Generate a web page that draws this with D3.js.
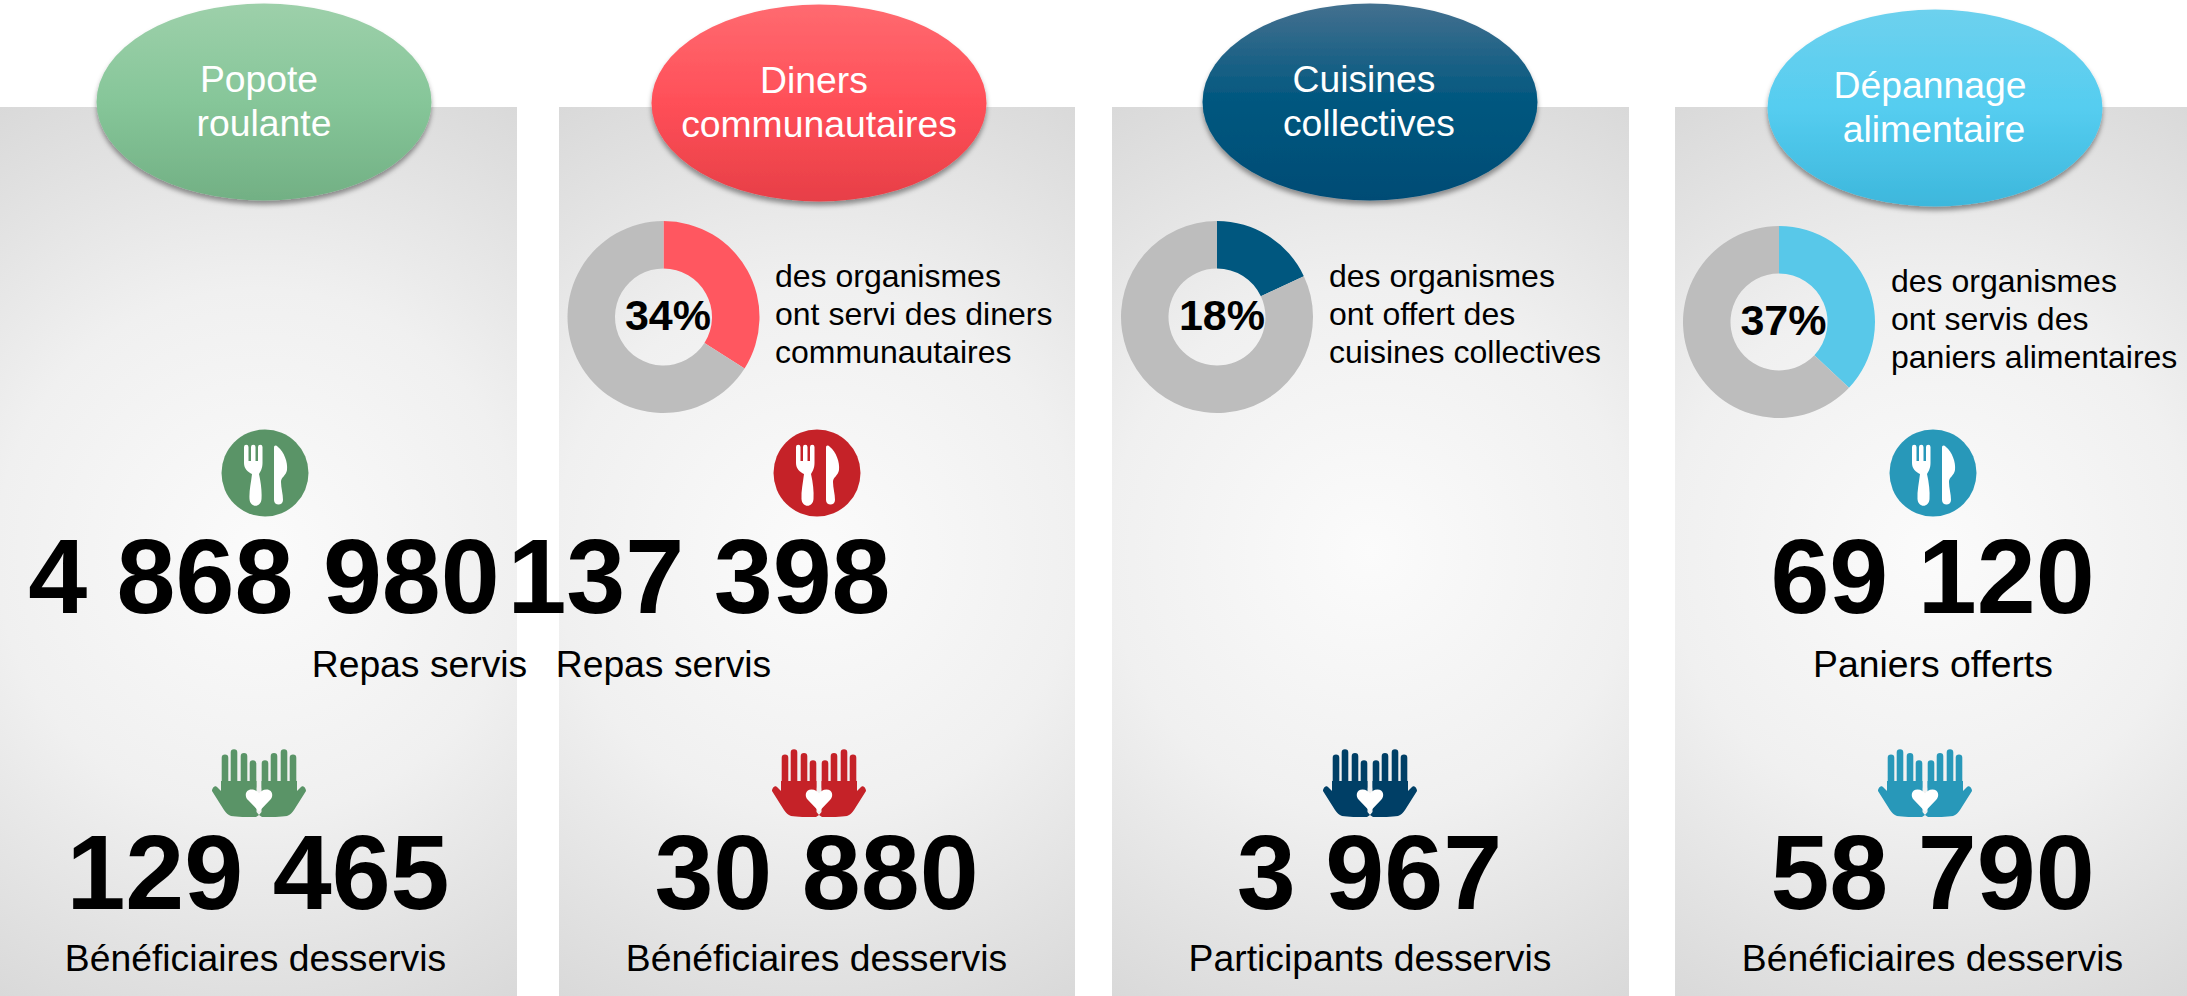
<!DOCTYPE html>
<html>
<head>
<meta charset="utf-8">
<script src="https://cdn.jsdelivr.net/npm/d3@7"></script>
<style>
  html, body { margin: 0; padding: 0; background: #fff; }
  svg { display: block; }
  text { font-family: "Liberation Sans", Arial, sans-serif; }
</style>
</head>
<body>
<div id="chart"></div>
<script>
// chart values, one entry per service
let services = ['Popote roulante', 'Diners communautaires', 'Cuisines collectives', 'Dépannage alimentaire']
let titleLines = [['Popote', 'roulante'], ['Diners', 'communautaires'], ['Cuisines', 'collectives'], ['Dépannage', 'alimentaire']]
let shares = [null, 34, 18, 37]
let shareText = [
  null,
  ['des organismes', 'ont servi des diners', 'communautaires'],
  ['des organismes', 'ont offert des', 'cuisines collectives'],
  ['des organismes', 'ont servis des', 'paniers alimentaires']
]
let outputs = [4868980, 137398, null, 69120]
let outputLabels = ['Repas servis', 'Repas servis', null, 'Paniers offerts']
let reach = [129465, 30880, 3967, 58790]
let reachLabels = ['Bénéficiaires desservis', 'Bénéficiaires desservis', 'Participants desservis', 'Bénéficiaires desservis']

let width = 2187
let height = 996
let panelTop = 107
let panelX = [[0, 517], [559, 1075], [1112, 1629], [1675, 2187]]
let ovalC = [[264, 102], [819, 103], [1370, 102], [1935, 108]]
let titleX = [[259, 264], [814, 819], [1364, 1369], [1930, 1934]]
let donutC = [null, [663.5, 317], [1217, 317], [1779, 322]]
let shareX = [null, 668, 1222, 1783.5]
let sideX = [null, 775, 1329, 1891]
let iconX = [265, 817, null, 1933]
let handX = [259, 819, 1370, 1925]
let outputX = [264, 699, null, 1932.5]
let outputLabelX = [419.5, 663.5, null, 1933]
let reachX = [258, 816.5, 1369.5, 1932.5]
let reachLabelX = [255.5, 816.5, 1370, 1932.5]

let ovalStops = [
  ['#9dd0aa', '#86c699', '#72b084'],
  ['#ff6a70', '#ff4f58', '#e73f47'],
  ['#43708f', '#00577f', '#004c75'],
  ['#6dd1ee', '#55cdf0', '#3db7dc']
]
let sliceColor = ['#86c699', '#ff5760', '#00577f', '#58c8e9']
let iconColor = ['#5a9467', '#c52228', '#003f66', '#2898b9']
let restColor = '#bdbdbd'

let format = d3.formatLocale({ decimal: ',', thousands: ' ', grouping: [3], currency: ['', ' $'] }).format(',d')

let svg = d3.select('#chart').append('svg').attr('width', width).attr('height', height)
let defs = svg.append('defs')

let shadow = defs.append('filter').attr('id', 'oval-shadow')
  .attr('x', '-10%').attr('y', '-10%').attr('width', '120%').attr('height', '125%')
shadow.append('feDropShadow').attr('dx', 0).attr('dy', 4).attr('stdDeviation', 2.5)
  .attr('flood-color', '#000').attr('flood-opacity', 0.4)

panelX.forEach(([x0, x1], i) => {
  let bg = defs.append('radialGradient').attr('id', 'panel-' + i)
    .attr('gradientUnits', 'userSpaceOnUse')
    .attr('cx', (x0 + x1) / 2).attr('cy', (panelTop + height) / 2).attr('r', 525)
  bg.append('stop').attr('offset', 0).attr('stop-color', '#fbfbfb')
  bg.append('stop').attr('offset', 0.5).attr('stop-color', '#f0f0f0')
  bg.append('stop').attr('offset', 0.75).attr('stop-color', '#e4e4e4')
  bg.append('stop').attr('offset', 1).attr('stop-color', '#d8d8d8')

  let oval = defs.append('linearGradient').attr('id', 'oval-' + i)
    .attr('x1', 0).attr('y1', 0).attr('x2', 0).attr('y2', 1)
  oval.selectAll('stop').data(ovalStops[i]).join('stop')
    .attr('offset', (d, k) => [0, 0.5, 1][k])
    .attr('stop-color', d => d)
})

// panels first, the big numbers spill over the gaps
svg.selectAll('.panel').data(panelX).join('rect')
  .attr('class', 'panel')
  .attr('x', d => d[0]).attr('y', panelTop)
  .attr('width', d => d[1] - d[0]).attr('height', height - panelTop)
  .attr('fill', (d, i) => `url(#panel-${i})`)

let arc = d3.arc().innerRadius(48.5).outerRadius(96)
let pie = d3.pie().sort(null).value(d => d)

function drawFork(g, color) {
  g.append('circle').attr('r', 43.5).attr('fill', color)
  g.append('path').attr('fill', '#fff')
    .attr('d', 'M-21,-26a2.25,2.25 0 0 1 4.5,0V-12h2.5V-26a2.25,2.25 0 0 1 4.5,0V-12h2.5V-26a2.25,2.25 0 0 1 4.5,0V-10C-2.5,-4 -5,-1 -6,1C-4,10 -3,18 -3.5,26C-4,35 -15,35 -15.5,26C-16,18 -14,10 -13,1C-17,-1 -21,-4 -21,-10Z')
  g.append('path').attr('fill', '#fff')
    .attr('d', 'M9,-25C9,-28 11,-28 13,-26C19,-21 23,-11 22,-3C21,3 16,4 16,9C16,15 18,21 18,27C18,33 9,33 9,27Z')
}

function drawHands(g, color) {
  [1, -1].forEach(side => {
    let hand = g.append('g').attr('transform', `scale(${side},1)`)
    hand.append('path').attr('fill', 'none').attr('stroke', color)
      .attr('stroke-width', 6.6).attr('stroke-linecap', 'round')
      .attr('d', 'M-34,-24.3V5M-25,-29.4V5M-15,-25.7V5M-6,-18.4V5')
    hand.append('path').attr('fill', color)
      .attr('d', 'M-47,9C-47,6 -44,3 -42,5L-38,9V-1H-2.5V30L0,33L-3,35C-12,35 -22,35 -28,34C-31,33 -33,31 -35,28Z')
  })
  g.append('path').attr('fill', '#fff')
    .attr('d', 'M0,29.5L-11,18C-15,14 -13.5,7.5 -7.5,7.5C-4,7.5 -1.5,9.5 0,11.5C1.5,9.5 4,7.5 7.5,7.5C13.5,7.5 15,14 11,18Z')
}

services.forEach((name, i) => {
  let g = svg.append('g').attr('class', 'service')

  // oval header
  g.append('ellipse')
    .attr('cx', ovalC[i][0]).attr('cy', ovalC[i][1]).attr('rx', 167.5).attr('ry', 98.5)
    .attr('fill', `url(#oval-${i})`)
    .attr('filter', 'url(#oval-shadow)')
  g.selectAll('.title').data(titleLines[i]).join('text')
    .attr('class', 'title')
    .attr('x', (d, k) => titleX[i][k])
    .attr('y', (d, k) => ovalC[i][1] - 10 + k * 44)
    .attr('text-anchor', 'middle').attr('fill', '#fff').attr('font-size', 37.3)
    .text(d => d)

  // donut
  if (shares[i] !== null) {
    let donut = g.append('g').attr('transform', `translate(${donutC[i]})`)
    donut.selectAll('path').data(pie([shares[i], 100 - shares[i]])).join('path')
      .attr('d', arc)
      .attr('fill', (d, k) => k === 0 ? sliceColor[i] : restColor)
    g.append('text')
      .attr('x', shareX[i]).attr('y', donutC[i][1] + 13)
      .attr('text-anchor', 'middle').attr('font-size', 43).attr('font-weight', 'bold')
      .text(shares[i] + '%')
    g.selectAll('.side').data(shareText[i]).join('text')
      .attr('class', 'side')
      .attr('x', sideX[i])
      .attr('y', (d, k) => donutC[i][1] - 30.5 + k * 38)
      .attr('font-size', 32)
      .text(d => d)
  }

  // first figure
  if (outputs[i] !== null) {
    drawFork(g.append('g').attr('transform', `translate(${iconX[i]},473)`), iconColor[i])
    g.append('text')
      .attr('x', outputX[i]).attr('y', 613)
      .attr('text-anchor', 'middle').attr('font-size', 106).attr('font-weight', 'bold')
      .text(format(outputs[i]))
    g.append('text')
      .attr('x', outputLabelX[i]).attr('y', 677)
      .attr('text-anchor', 'middle').attr('font-size', 37.3)
      .text(outputLabels[i])
  }

  // second figure
  drawHands(g.append('g').attr('transform', `translate(${handX[i]},782)`), iconColor[i])
  g.append('text')
    .attr('x', reachX[i]).attr('y', 909)
    .attr('text-anchor', 'middle').attr('font-size', 106).attr('font-weight', 'bold')
    .text(format(reach[i]))
  g.append('text')
    .attr('x', reachLabelX[i]).attr('y', 971)
    .attr('text-anchor', 'middle').attr('font-size', 37.3)
    .text(reachLabels[i])
})
</script>
</body>
</html>
